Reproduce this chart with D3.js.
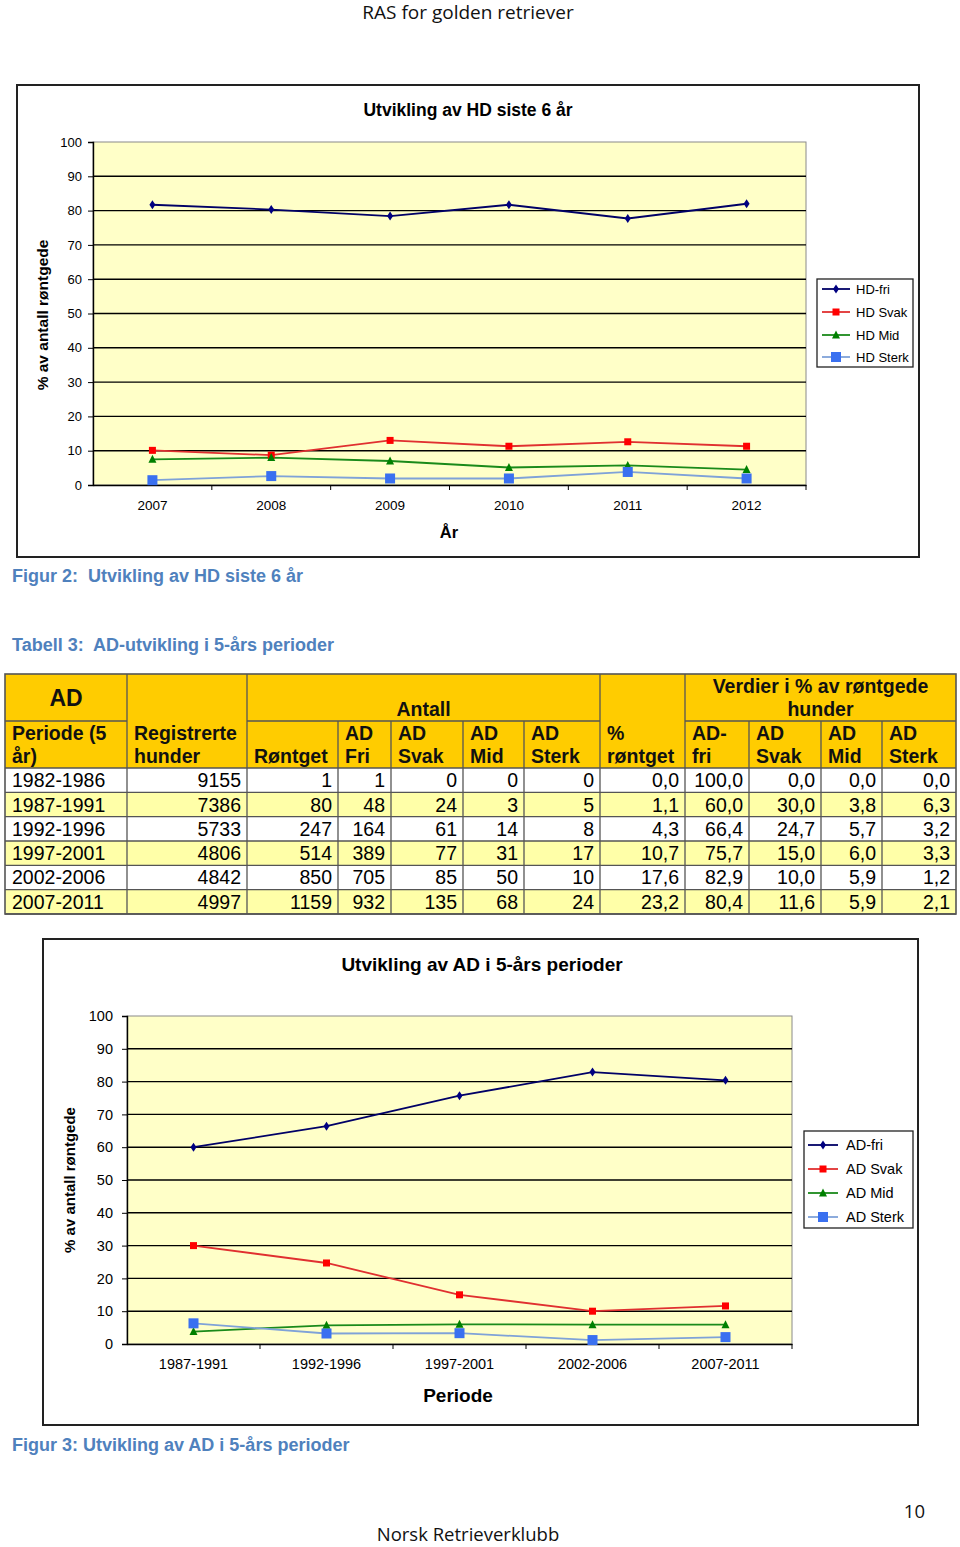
<!DOCTYPE html>
<html><head><meta charset="utf-8">
<script src="https://cdn.jsdelivr.net/npm/d3@7"></script>
<style>body{margin:0;background:#fff}svg{display:block}</style>
</head><body><div id="c"></div>
<script>
// ---------- DATA ----------
const years = ["2007","2008","2009","2010","2011","2012"];
const hdFri   = [81.7, 80.3, 78.4, 81.7, 77.7, 82.0];
const hdSvak  = [10.1, 8.7, 13.0, 11.3, 12.6, 11.3];
const hdMid   = [7.5, 8.0, 7.0, 5.1, 5.7, 4.5];
const hdSterk = [1.4, 2.6, 1.9, 1.9, 3.8, 1.9];
const hdNames = ["HD-fri","HD Svak","HD Mid","HD Sterk"];

const periods     = ["1982-1986","1987-1991","1992-1996","1997-2001","2002-2006","2007-2011"];
const registrerte = [9155, 7386, 5733, 4806, 4842, 4997];
const rontget     = [1, 80, 247, 514, 850, 1159];
const adFriN      = [1, 48, 164, 389, 705, 932];
const adSvakN     = [0, 24, 61, 77, 85, 135];
const adMidN      = [0, 3, 14, 31, 50, 68];
const adSterkN    = [0, 5, 8, 17, 10, 24];
const pctRontget  = [0.0, 1.1, 4.3, 10.7, 17.6, 23.2];
const pctFri      = [100.0, 60.0, 66.4, 75.7, 82.9, 80.4];
const pctSvak     = [0.0, 30.0, 24.7, 15.0, 10.0, 11.6];
const pctMid      = [0.0, 3.8, 5.7, 6.0, 5.9, 5.9];
const pctSterk    = [0.0, 6.3, 3.2, 3.3, 1.2, 2.1];
const adNames = ["AD-fri","AD Svak","AD Mid","AD Sterk"];
const yTicks = [0,10,20,30,40,50,60,70,80,90,100];

// ---------- SETUP ----------
const W = 960, H = 1547;
const svg = d3.select("#c").append("svg").attr("width", W).attr("height", H);
svg.append("rect").attr("width", W).attr("height", H).attr("fill", "#fff");
const FONT = "'Liberation Sans', Arial, sans-serif";

svg.append("text").attr("x", 468).attr("y", 19).attr("text-anchor", "middle")
  .attr("font-family", "'Open Sans', sans-serif").attr("font-size", 19).attr("fill", "#111")
  .text("RAS for golden retriever");
svg.append("text").attr("x", 468).attr("y", 1541).attr("text-anchor", "middle")
  .attr("font-family", "'Open Sans', sans-serif").attr("font-size", 18.5).attr("fill", "#111")
  .text("Norsk Retrieverklubb");
svg.append("text").attr("x", 925).attr("y", 1518).attr("text-anchor", "end")
  .attr("font-family", "'Open Sans', sans-serif").attr("font-size", 18.5).attr("fill", "#111")
  .text("10");

const styles = [
  {line:"#000066", fill:"#000080", shape:"diamond", size:7},
  {line:"#E03030", fill:"#FF0000", shape:"square", size:7},
  {line:"#1A8A1A", fill:"#008000", shape:"triangle", size:8},
  {line:"#7FA2D8", fill:"#3A70F0", shape:"square", size:10}
];

function marker(g, st, x, y) {
  const s = st.size;
  if (st.shape === "diamond") {
    g.append("path").attr("d", `M${x},${y-s/2-1}L${x+s/2-0.5},${y}L${x},${y+s/2+1}L${x-s/2+0.5},${y}Z`).attr("fill", st.fill);
  } else if (st.shape === "square") {
    g.append("rect").attr("x", x-s/2).attr("y", y-s/2).attr("width", s).attr("height", s).attr("fill", st.fill);
  } else {
    g.append("path").attr("d", `M${x},${y-s/2-0.5}L${x+s/2},${y+s/2-0.5}L${x-s/2},${y+s/2-0.5}Z`).attr("fill", st.fill);
  }
}

function chart(o) {
  const g = svg.append("g");
  g.append("rect").attr("x", o.box[0]).attr("y", o.box[1]).attr("width", o.box[2]-o.box[0]).attr("height", o.box[3]-o.box[1])
    .attr("fill", "#fff").attr("stroke", "#222").attr("stroke-width", 2);
  g.append("text").attr("x", o.titleX).attr("y", o.titleY).attr("text-anchor", "middle")
    .attr("font-family", FONT).attr("font-weight", "bold").attr("font-size", o.titleFont).attr("fill", "#000").text(o.title);
  const x = d3.scaleBand().domain(o.cats).range([o.plot[0], o.plot[2]]).padding(0);
  const y = d3.scaleLinear().domain([0,100]).range([o.plot[3], o.plot[1]]);
  g.append("rect").attr("x", o.plot[0]).attr("y", o.plot[1]).attr("width", o.plot[2]-o.plot[0]).attr("height", o.plot[3]-o.plot[1])
    .attr("fill", "#FFFFC8").attr("stroke", "#8a8a8a").attr("stroke-width", 1);
  g.selectAll(".grid").data(yTicks.filter(d => d > 0 && d < 100)).enter().append("line")
    .attr("x1", o.plot[0]).attr("x2", o.plot[2]).attr("y1", d => y(d)).attr("y2", d => y(d))
    .attr("stroke", "#000").attr("stroke-width", 1.4);
  // axes
  const ya = g.append("g").attr("transform", `translate(${o.plot[0]},0)`)
    .call(d3.axisLeft(y).tickValues(yTicks).tickSize(5).tickPadding(o.tickPad).tickFormat(d3.format("d")));
  ya.select(".domain").attr("stroke", "#000").attr("stroke-width", 1.4);
  ya.selectAll("line").attr("stroke", "#000");
  ya.selectAll("text").attr("font-family", FONT).attr("font-size", o.tickFont).attr("fill", "#000");
  const xa = g.append("g").attr("transform", `translate(0,${o.plot[3]})`)
    .call(d3.axisBottom(x).tickSize(0).tickPadding(o.xPad));
  xa.select(".domain").attr("stroke", "#000").attr("stroke-width", 1.4);
  xa.selectAll("text").attr("font-family", FONT).attr("font-size", o.xFont).attr("fill", "#000");
  g.selectAll(".xt").data(o.cats).enter().append("line")
    .attr("x1", (d,i) => o.plot[0] + x.bandwidth()*(i+1)).attr("x2", (d,i) => o.plot[0] + x.bandwidth()*(i+1))
    .attr("y1", o.plot[3]).attr("y2", o.plot[3]+5).attr("stroke", "#000");
  // labels
  g.append("text").attr("transform", `translate(${o.yLabX},${o.yLabY}) rotate(-90)`).attr("text-anchor", "middle")
    .attr("font-family", FONT).attr("font-weight", "bold").attr("font-size", o.yLabFont).text("% av antall røntgede");
  g.append("text").attr("x", o.xLab[0]).attr("y", o.xLab[1]).attr("text-anchor", "middle")
    .attr("font-family", FONT).attr("font-weight", "bold").attr("font-size", o.xLab[2]).text(o.xLabel);
  // series
  const line = d3.line().x((d,i) => x(o.cats[i]) + x.bandwidth()/2).y(d => y(d));
  o.series.forEach((s, k) => {
    g.append("path").attr("d", line(s)).attr("fill", "none").attr("stroke", styles[k].line).attr("stroke-width", 1.8);
  });
  o.series.forEach((s, k) => {
    s.forEach((v, i) => marker(g, styles[k], x(o.cats[i]) + x.bandwidth()/2, y(v)));
  });
  // legend
  const L = o.leg;
  g.append("rect").attr("x", L.x0).attr("y", L.y0).attr("width", L.x1-L.x0).attr("height", L.y1-L.y0)
    .attr("fill", "#fff").attr("stroke", "#222").attr("stroke-width", 1.3);
  o.names.forEach((n, k) => {
    const yy = L.rows[k];
    g.append("line").attr("x1", L.l0).attr("x2", L.l1).attr("y1", yy).attr("y2", yy).attr("stroke", styles[k].line).attr("stroke-width", 1.8);
    marker(g, styles[k], (L.l0+L.l1)/2, yy);
    g.append("text").attr("x", L.tx).attr("y", yy).attr("dy", "0.36em").attr("font-family", FONT).attr("font-size", L.font).text(n);
  });
}

chart({
  box:[17,85,919,557], title:"Utvikling av HD siste 6 år", titleX:468, titleY:116, titleFont:17.5,
  cats: years, plot:[93,142,806,485], tickPad:6, tickFont:13, xPad:15, xFont:13.5,
  yLabX:48, yLabY:315, yLabFont:15.5, xLab:[449,538,16.5], xLabel:"År",
  series:[hdFri, hdSvak, hdMid, hdSterk], names: hdNames,
  leg:{x0:817,y0:279,x1:913,y1:367,l0:822,l1:850,tx:856,rows:[289,312,335,357],font:13}
});

const adCats = periods.slice(1);
chart({
  box:[43,939,918,1425], title:"Utvikling av AD i 5-års perioder", titleX:482, titleY:971, titleFont:19,
  cats: adCats, plot:[127,1016,792,1344], tickPad:9, tickFont:14.5, xPad:15, xFont:14.5,
  yLabX:75, yLabY:1180, yLabFont:15, xLab:[458,1402,19], xLabel:"Periode",
  series:[pctFri.slice(1), pctSvak.slice(1), pctMid.slice(1), pctSterk.slice(1)], names: adNames,
  leg:{x0:804,y0:1131,x1:913,y1:1228,l0:808,l1:838,tx:846,rows:[1145,1169,1193,1217],font:14.5}
});

// captions
const CAP = "#4F81BD";
svg.append("text").attr("x", 12).attr("y", 582).attr("font-family", FONT).attr("font-weight", "bold").attr("font-size", 18)
  .attr("fill", CAP).attr("xml:space", "preserve").text("Figur 2:  Utvikling av HD siste 6 år");
svg.append("text").attr("x", 12).attr("y", 651).attr("font-family", FONT).attr("font-weight", "bold").attr("font-size", 18)
  .attr("fill", CAP).attr("xml:space", "preserve").text("Tabell 3:  AD-utvikling i 5-års perioder");
svg.append("text").attr("x", 12).attr("y", 1451).attr("font-family", FONT).attr("font-weight", "bold").attr("font-size", 18)
  .attr("fill", CAP).text("Figur 3: Utvikling av AD i 5-års perioder");

// ---------- TABLE ----------
const cx = [5,127,247,338,391,463,524,600,685,749,821,882,956];
const tTop = 674, h1 = 721, h2 = 768, rowH = 24.33;
const T = svg.append("g").attr("font-family", FONT);
const HDR = "#FFCC00", ALT = "#FFFFA8";
T.append("rect").attr("x", cx[0]).attr("y", tTop).attr("width", cx[12]-cx[0]).attr("height", h2-tTop).attr("fill", HDR);
const rowsData = periods.map((p,i) => [p, registrerte[i], rontget[i], adFriN[i], adSvakN[i], adMidN[i], adSterkN[i],
  pctRontget[i], pctFri[i], pctSvak[i], pctMid[i], pctSterk[i]]);
const fmt1 = v => v.toFixed(1).replace(".", ",");
const rg = T.selectAll(".row").data(rowsData).enter().append("g")
  .attr("transform", (d,i) => `translate(0,${h2 + i*rowH})`);
rg.append("rect").attr("x", cx[0]).attr("width", cx[12]-cx[0]).attr("height", rowH)
  .attr("fill", (d,i) => i % 2 ? ALT : "#fff");
rg.each(function(d) {
  const r = d3.select(this);
  d.forEach((v, j) => {
    if (j === 0) r.append("text").attr("x", cx[0]+7).attr("y", rowH/2).attr("dy", "0.36em").attr("font-size", 19.5).text(v);
    else r.append("text").attr("x", cx[j+1]-6).attr("y", rowH/2).attr("dy", "0.36em").attr("text-anchor", "end")
      .attr("font-size", 19.5).text(j >= 7 ? fmt1(v) : v);
  });
});
const tBot = h2 + 6*rowH;
// grid lines
const G = "#555";
T.append("rect").attr("x", cx[0]).attr("y", tTop).attr("width", cx[12]-cx[0]).attr("height", tBot-tTop)
  .attr("fill", "none").attr("stroke", G).attr("stroke-width", 1.6);
cx.slice(1,12).forEach((xx, k) => {
  const j = k + 1;
  const yStart = (j >= 3 && j <= 6) || (j >= 9 && j <= 11) ? h1 : tTop;
  T.append("line").attr("x1", xx).attr("x2", xx).attr("y1", yStart).attr("y2", tBot).attr("stroke", G).attr("stroke-width", 1.3);
});
[[cx[0],cx[1]],[cx[2],cx[7]],[cx[8],cx[12]]].forEach(s =>
  T.append("line").attr("x1", s[0]).attr("x2", s[1]).attr("y1", h1).attr("y2", h1).attr("stroke", G).attr("stroke-width", 1.3));
for (let i = 0; i <= 6; i++)
  T.append("line").attr("x1", cx[0]).attr("x2", cx[12]).attr("y1", h2 + i*rowH).attr("y2", h2 + i*rowH).attr("stroke", G).attr("stroke-width", 1.3);

// header texts
const hb = (x, y, t, size, anchor) => T.append("text").attr("x", x).attr("y", y).attr("font-weight", "bold")
  .attr("font-size", size || 19.5).attr("text-anchor", anchor || "start").attr("fill", "#111").text(t);
hb((cx[0]+cx[1])/2, 706, "AD", 23, "middle");
hb(cx[2] + (cx[7]-cx[2])/2, 716, "Antall", 19.5, "middle");
hb((cx[8]+cx[12])/2, 693, "Verdier i % av røntgede", 19.5, "middle");
hb((cx[8]+cx[12])/2, 716, "hunder", 19.5, "middle");
const L1 = 740, L2 = 763;
const heads = [["Periode (5","år)"],["Registrerte","hunder"],["","Røntget"],["AD","Fri"],["AD","Svak"],["AD","Mid"],["AD","Sterk"],
  ["%","røntget"],["AD-","fri"],["AD","Svak"],["AD","Mid"],["AD","Sterk"]];
heads.forEach((h, j) => {
  const x0 = cx[j] + 7;
  if (h[0]) hb(x0, L1, h[0]);
  hb(x0, L2, h[1]);
});
</script></body></html>
